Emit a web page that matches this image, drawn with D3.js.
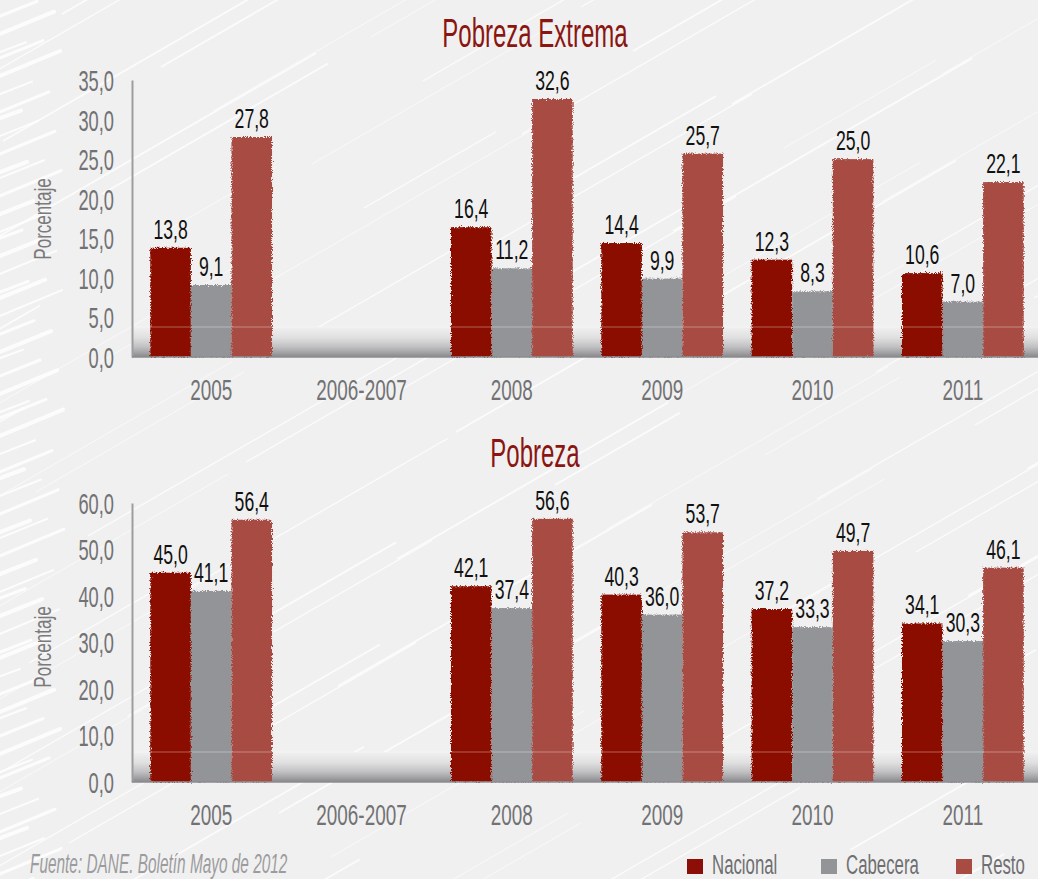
<!DOCTYPE html>
<html>
<head>
<meta charset="utf-8">
<script src="https://cdn.jsdelivr.net/npm/d3@7"></script>
<style>
  html, body { margin: 0; padding: 0; background: #f0f0f0; overflow: hidden; }
  svg { display: block; }
  text { font-family: "Liberation Sans", Arial, sans-serif; }
</style>
</head>
<body>
<script>
// datos (DANE, boletín mayo 2012)
const years = ['2005', '2006-2007', '2008', '2009', '2010', '2011'];
const series = ['Nacional', 'Cabecera', 'Resto'];
const colors = ['#8b0f06', '#939498', '#a84b43'];

const extremaNacional = [13.8, null, 16.4, 14.4, 12.3, 10.6];
const extremaCabecera = [9.1, null, 11.2, 9.9, 8.3, 7.0];
const extremaResto = [27.8, null, 32.6, 25.7, 25.0, 22.1];

const pobrezaNacional = [45.0, null, 42.1, 40.3, 37.2, 34.1];
const pobrezaCabecera = [41.1, null, 37.4, 36.0, 33.3, 30.3];
const pobrezaResto = [56.4, null, 56.6, 53.7, 49.7, 46.1];

const extremaTicks = [0, 5, 10, 15, 20, 25, 30, 35];
const pobrezaTicks = [0, 10, 20, 30, 40, 50, 60];

const width = 1038;
const height = 879;
const SX = 0.63; // la fuente original es muy condensada

const locale = d3.formatLocale({ decimal: ',', thousands: '.', grouping: [3], currency: ['$', ''] });
const fmt = locale.format('.1f');

const svg = d3.select('body').append('svg')
  .attr('width', width)
  .attr('height', height);

const defs = svg.append('defs');

const rough = defs.append('filter')
  .attr('id', 'rough')
  .attr('x', '-10%').attr('y', '-10%')
  .attr('width', '120%').attr('height', '120%');
rough.append('feTurbulence')
  .attr('type', 'fractalNoise')
  .attr('baseFrequency', 1.2)
  .attr('numOctaves', 2)
  .attr('seed', 4)
  .attr('result', 'noise');
rough.append('feDisplacementMap')
  .attr('in', 'SourceGraphic')
  .attr('in2', 'noise')
  .attr('scale', 5)
  .attr('xChannelSelector', 'R')
  .attr('yChannelSelector', 'G');

const floorGrad = defs.append('linearGradient')
  .attr('id', 'floor')
  .attr('x1', 0).attr('y1', 0).attr('x2', 0).attr('y2', 1);
[[0, '#f0f0f0'], [0.35, '#e0e0e1'], [0.65, '#c2c2c4'], [0.85, '#a3a3a6'], [1, '#88888c']]
  .forEach(([o, c]) => floorGrad.append('stop').attr('offset', o).attr('stop-color', c));

// fondo con trazos diagonales
const bg = svg.append('g').attr('class', 'background');
bg.append('rect').attr('width', width).attr('height', height).attr('fill', '#f0f0f0');
const angle = Math.tan(30 * Math.PI / 180);
for (let i = 0; i < 90; i++) {
  const x0 = (i * 151) % 1300 - 200;
  const y0 = (i * 97) % 1000;
  const len = 120 + (i * 53) % 260;
  bg.append('line')
    .attr('x1', x0).attr('y1', y0)
    .attr('x2', x0 + len).attr('y2', y0 - len * angle)
    .attr('stroke', '#ffffff')
    .attr('stroke-width', 0.8 + (i % 3) * 0.5)
    .attr('opacity', 0.75);
}
for (let i = 0; i < 60; i++) {
  const y0 = i * 15 + (i % 4) * 3;
  const len = 20 + (i * 17) % 45;
  bg.append('line')
    .attr('x1', -5).attr('y1', y0)
    .attr('x2', len).attr('y2', y0 - len * 0.45)
    .attr('stroke', '#ffffff')
    .attr('stroke-width', 2 + (i % 3))
    .attr('stroke-linecap', 'round')
    .attr('opacity', 0.85);
}

// texto condensado
function label(g, x, y, txt, sx) {
  return g.append('text')
    .attr('transform', `translate(${x},${y}) scale(${sx},1)`)
    .text(txt);
}

const x = d3.scaleBand()
  .domain(years)
  .range([136, 1038])
  .paddingInner(0.19)
  .paddingOuter(0.095);

const xs = d3.scaleBand()
  .domain(series)
  .range([0, x.bandwidth()]);

function panel(opts) {
  const g = svg.append('g');
  const y = d3.scaleLinear()
    .domain([0, d3.max(opts.ticks)])
    .range([opts.bottom, opts.top]);
  const y0 = y(0);

  label(g, 535, opts.titleY, opts.title, 0.6)
    .attr('text-anchor', 'middle')
    .attr('font-size', 40)
    .attr('fill', '#8b1510');

  // piso 3D
  g.append('rect')
    .attr('x', 132)
    .attr('y', y0 - 30)
    .attr('width', width - 132)
    .attr('height', 30)
    .attr('fill', 'url(#floor)');

  const axis = g.append('g')
    .attr('transform', 'translate(132,0)')
    .call(d3.axisLeft(y).tickValues(opts.ticks).tickSize(0).tickPadding(18).tickFormat(fmt));
  axis.select('.domain').attr('stroke', '#9d9d9f').attr('stroke-width', 2);
  axis.selectAll('text')
    .attr('font-size', 29)
    .attr('fill', '#727274')
    .attr('x', -18 / SX)
    .attr('dy', '0.36em')
    .attr('transform', `scale(${SX},1)`);

  label(g, 0, 0, 'Porcentaje', 0.74)
    .attr('transform', `translate(51,${opts.axisLabelY}) rotate(-90) scale(0.74,1)`)
    .attr('text-anchor', 'middle')
    .attr('font-size', 23)
    .attr('fill', '#7a7a7c');

  const rows = opts.values.map((vals, si) => years.map((yr, i) => ({
    year: yr, serie: series[si], color: colors[si], value: vals[i]
  })).filter(d => d.value != null));
  const data = rows.flat();

  g.append('g')
    .attr('filter', 'url(#rough)')
    .selectAll('rect')
    .data(data)
    .join('rect')
    .attr('x', d => x(d.year) + xs(d.serie))
    .attr('y', d => y(d.value))
    .attr('width', xs.bandwidth())
    .attr('height', d => y0 - y(d.value))
    .attr('fill', d => d.color);

  // borde trasero del piso
  g.append('line')
    .attr('x1', 134).attr('x2', width)
    .attr('y1', y0 - 30).attr('y2', y0 - 30)
    .attr('stroke', '#ffffff')
    .attr('stroke-opacity', 0.35);
  g.append('line')
    .attr('x1', 132).attr('x2', width)
    .attr('y1', y0).attr('y2', y0)
    .attr('stroke', '#8c8c90')
    .attr('stroke-width', 1.5);

  const vl = g.append('g');
  data.forEach(d => {
    label(vl, x(d.year) + xs(d.serie) + xs.bandwidth() / 2, y(d.value) - 9, fmt(d.value), SX)
      .attr('text-anchor', 'middle')
      .attr('font-size', 28)
      .attr('fill', '#111111');
  });

  const xl = g.append('g');
  years.forEach(yr => {
    label(xl, x(yr) + x.bandwidth() / 2, opts.xLabelY, yr, SX)
      .attr('text-anchor', 'middle')
      .attr('font-size', 30)
      .attr('fill', '#727274');
  });
}

panel({
  title: 'Pobreza Extrema',
  titleY: 47,
  top: 80,
  bottom: 357,
  ticks: extremaTicks,
  axisLabelY: 219,
  xLabelY: 400,
  values: [extremaNacional, extremaCabecera, extremaResto]
});

panel({
  title: 'Pobreza',
  titleY: 467,
  top: 503,
  bottom: 782,
  ticks: pobrezaTicks,
  axisLabelY: 647,
  xLabelY: 825,
  values: [pobrezaNacional, pobrezaCabecera, pobrezaResto]
});

// fuente y leyenda
label(svg, 30, 873, 'Fuente: DANE. Boletín Mayo de 2012', 0.57)
  .attr('font-size', 27)
  .attr('font-style', 'italic')
  .attr('fill', '#9c9c9e');

const legendX = [687, 821, 956];
const legend = svg.append('g');
series.forEach((s, i) => {
  legend.append('rect')
    .attr('x', legendX[i])
    .attr('y', 859)
    .attr('width', 16)
    .attr('height', 15)
    .attr('fill', colors[i]);
  label(legend, legendX[i] + 25, 874, s, 0.6)
    .attr('font-size', 28)
    .attr('fill', '#6f6f71');
});
</script>
</body>
</html>
